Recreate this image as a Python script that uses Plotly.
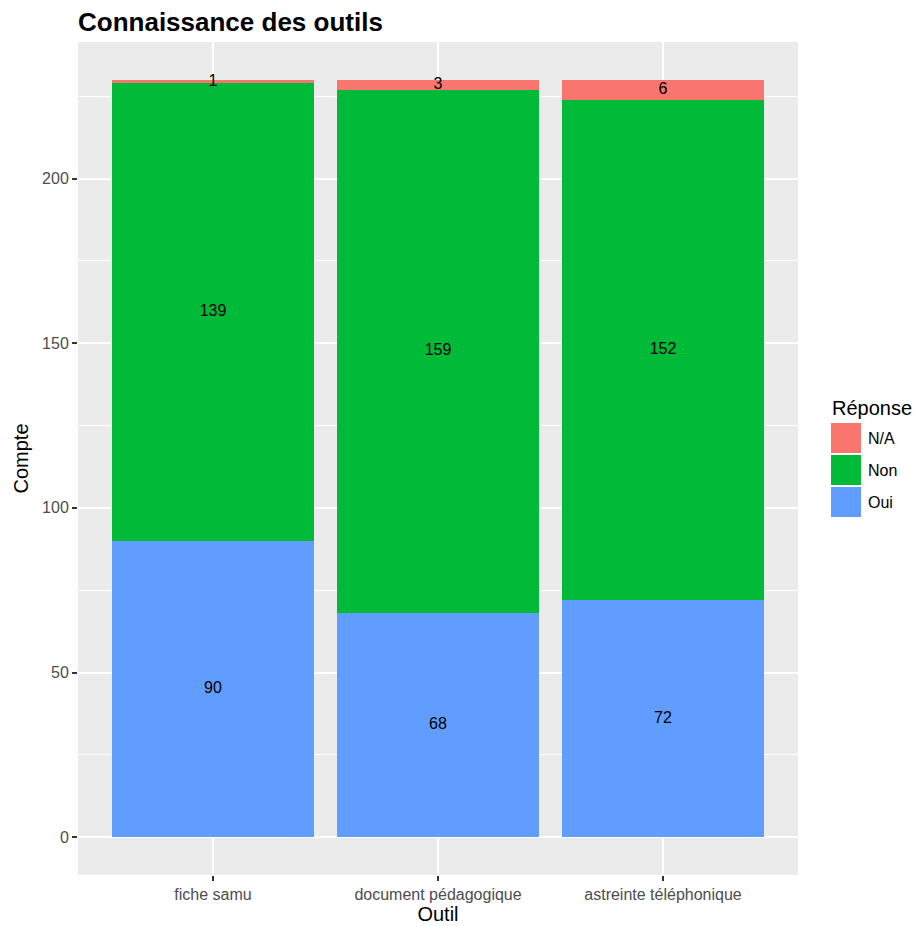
import plotly.graph_objects as go

# ---- data ----
outils = ["fiche samu", "document pédagogique", "astreinte téléphonique"]
oui = [90, 68, 72]
non = [139, 159, 152]
na = [1, 3, 6]
reponses = ["Oui", "Non", "N/A"]          # stacking order (bottom -> top)
couleurs = ["#619CFF", "#00BA38", "#F8766D"]
y_ticks = [0, 50, 100, 150, 200]

series = [oui, non, na]
FONT = "Liberation Sans, Arial, Helvetica, sans-serif"

# ---- geometry of the page ----
W, H = 914, 926
ML, MR, MT, MB = 78, 116, 42, 51
PW, PH = W - ML - MR, H - MT - MB


def px_x(px):
    return (px - ML) / PW


def px_y(py):
    return (H - MB - py) / PH


fig = go.Figure()
idx = list(range(len(outils)))
for name, vals, col in zip(reponses, series, couleurs):
    fig.add_trace(go.Bar(x=idx, y=vals, name=name, marker=dict(color=col, line=dict(width=0)),
                         width=0.9, showlegend=False))

# labels centered in each segment
lab_x, lab_y, lab_t = [], [], []
base = [0] * len(outils)
for vals in series:
    for i, v in enumerate(vals):
        lab_x.append(i)
        lab_y.append(base[i] + v / 2)
        lab_t.append(str(v))
        base[i] += v
fig.add_trace(go.Scatter(x=lab_x, y=lab_y, text=lab_t, mode="text",
                         textfont=dict(family=FONT, size=16, color="black"),
                         showlegend=False, hoverinfo="skip"))

total = max(base)
pad = total * 0.05

fig.update_layout(
    width=W, height=H,
    barmode="stack",
    paper_bgcolor="white",
    plot_bgcolor="#EBEBEB",
    margin=dict(l=ML, r=MR, t=MT, b=MB, autoexpand=False),
    showlegend=False,
    title=dict(text="Connaissance des outils", x=0, xref="paper", xanchor="left",
               y=1 - 22 / H, yref="container", yanchor="middle",
               font=dict(family=FONT, size=26, color="black", weight="bold")),
    font=dict(family=FONT),
)
fig.update_xaxes(
    range=[-0.6, len(outils) - 0.4],
    tickmode="array", tickvals=idx, ticktext=outils,
    tickfont=dict(family=FONT, size=16, color="#4D4D4D"),
    ticks="outside", ticklen=5, tickwidth=1.5, tickcolor="#333333",
    showgrid=True, gridcolor="white", gridwidth=2,
    zeroline=False, showline=False,
    title=dict(text="Outil", font=dict(family=FONT, size=20, color="black"), standoff=4),
    automargin=False,
)
fig.update_yaxes(
    range=[-pad, total + pad],
    tickmode="array", tickvals=y_ticks,
    tickfont=dict(family=FONT, size=16, color="#4D4D4D"),
    ticks="outside", ticklen=5, tickwidth=1.5, tickcolor="#333333",
    showgrid=True, gridcolor="white", gridwidth=2,
    minor=dict(dtick=25, tick0=25, showgrid=True, gridcolor="white", gridwidth=1, ticks=""),
    zeroline=False, showline=False,
    title=dict(text="Compte", font=dict(family=FONT, size=20, color="black"), standoff=8),
    automargin=False,
)

# ---- legend drawn in ggplot style ----
fig.add_annotation(text="Réponse", xref="paper", yref="paper",
                   x=px_x(830), y=px_y(408), xanchor="left", yanchor="middle",
                   showarrow=False, font=dict(family=FONT, size=20, color="black"))
key_top = 423
for k, (name, col) in enumerate(zip(reponses[::-1], couleurs[::-1])):
    t = key_top + k * 32
    fig.add_shape(type="rect", xref="paper", yref="paper",
                  x0=px_x(831), x1=px_x(861), y0=px_y(t + 30), y1=px_y(t),
                  fillcolor=col, line=dict(width=0))
    fig.add_annotation(text=name, xref="paper", yref="paper",
                       x=px_x(866), y=px_y(t + 15), xanchor="left", yanchor="middle",
                       showarrow=False, font=dict(family=FONT, size=16, color="black"))

fig.write_html("out.html",
               config={"displayModeBar": False},
               post_script="document.body.style.margin='0';document.body.style.overflow='hidden';")
